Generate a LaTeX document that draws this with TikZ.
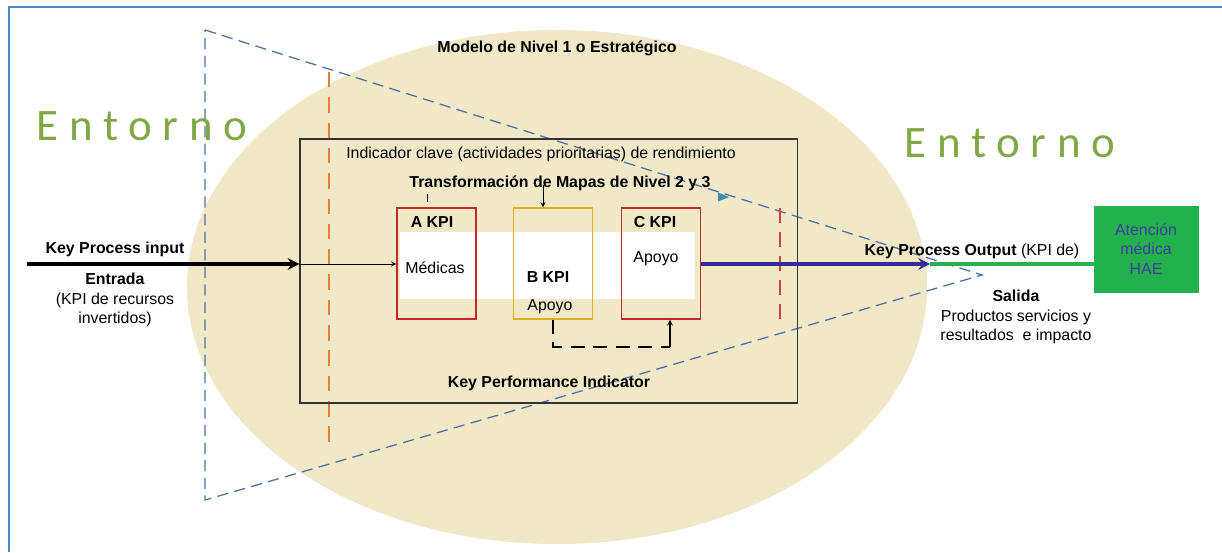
\documentclass[tikz,border=0pt]{standalone}
\usepackage{fontspec}
\setmainfont{Liberation Sans}
\newfontfamily\entfont[LetterSpace=24]{Carlito}
\usetikzlibrary{shapes,arrows,positioning,calc}

\definecolor{frameblue}{RGB}{68,140,203}
\definecolor{sand}{RGB}{240,232,198}
\definecolor{triblue}{RGB}{76,112,165}
\definecolor{dashorange}{RGB}{237,125,49}
\definecolor{dashred}{RGB}{214,62,62}
\definecolor{kpired}{RGB}{196,40,45}
\definecolor{kpiyellow}{RGB}{222,176,30}
\definecolor{outblue}{RGB}{50,48,150}
\definecolor{haegreen}{RGB}{34,177,76}
\definecolor{haetext}{RGB}{62,60,160}
\definecolor{entgreen}{RGB}{128,168,70}

\begin{document}
\begin{tikzpicture}[x=0.025cm, y=-0.025cm, >=stealth,
    lbl/.style={inner sep=0pt, font=\fontsize{11.3}{14}\selectfont, align=center},
    bold/.style={lbl, font=\fontsize{11.3}{14}\selectfont\bfseries},
    kpibox/.style={draw=kpired, line width=0.8pt, minimum width=1.975cm, minimum height=2.775cm, inner sep=0pt},
    tri/.style={draw=triblue, line width=0.9pt, dash pattern=on 8pt off 4.5pt},
    entorno/.style={inner sep=0pt, text=entgreen, font=\entfont\fontsize{32}{32}\selectfont},
    arrow/.style={->, line width=0.7pt}]

        \useasboundingbox (0,0) rectangle (1222,552);

        % frame
        \draw[frameblue, line width=1pt] (9,552) -- (9,7) -- (1222,7);

        % Modelo de Nivel 1
        \fill[sand] (557,287) ellipse [x radius=9.25cm, y radius=6.425cm];
        \draw[tri] (205,30) -- (982,275) -- (205,500) -- cycle;
        \fill[triblue!80!cyan] (718,192.5) -- (729,197) -- (718,201.5) -- cycle;

        \draw[dashorange, line width=0.8pt, dash pattern=on 11pt off 7pt] (329,72) -- (329,450);
        \draw[dashred, line width=0.8pt, dash pattern=on 11pt off 6pt] (780,208) -- (780,323);

        % Key Performance Indicator
        \node[draw=black!80, line width=0.8pt, minimum width=12.425cm, minimum height=6.6cm, inner sep=0pt] (kpi) at (548.5,271) {};
        \fill[white] (400,232) rectangle (695,299);

        % A, B, C
        \node[kpibox] (A) at (436.5,263.5) {};
        \node[kpibox, draw=kpiyellow] (B) at (553,263.5) {};
        \node[kpibox] (C) at (661,263.5) {};

        \node[bold] (Aname) at (432,222) {A KPI};
        \node[lbl] (Atext) at (435,268) {Médicas};
        \node[bold] (Bname) at (548,277) {B KPI};
        \node[lbl] (Btext) at (550,307) {Apoyo};
        \node[bold] (Cname) at (655,222) {C KPI};
        \node[lbl] (Ctext) at (656,259) {Apoyo};

        \node[bold] (title) at (557,48) {Modelo de Nivel 1 o Estratégico};
        \node[lbl] (indic) at (541,154) {Indicador clave (actividades prioritarias) de rendimiento};
        \node[bold] (transf) at (560,183) {Transformación de Mapas de Nivel 2 y 3};
        \node[bold] (kpiname) at (549,383) {Key Performance Indicator};

        \coordinate (tick) at (427,194);
        \draw[line width=0.7pt] (tick) -- ++(0,8);
        \coordinate (Bin) at (543,185);
        \draw[arrow] (Bin) -- (Bin |- B.north);

        % loop B -> C
        \coordinate (loop) at (553,347);
        \coordinate (loopEnd) at (670,347);
        \draw[line width=0.8pt, dash pattern=on 10pt off 6pt] (loop |- B.south) -- (loop) -- (loopEnd);
        \draw[arrow, line width=0.9pt] (loopEnd) -- (loopEnd |- C.south);

        % Entrada
        \coordinate (in) at (27,264);
        \node[bold] (kpin) at (115,249) {Key Process input};
        \node[lbl] (entrada) at (115,300) {\textbf{Entrada}\\(KPI de recursos\\invertidos)};
        \draw[->, line width=2.6pt] (in) -- (in -| kpi.west);
        \draw[arrow] (in -| kpi.west) -- (A.west |- in);

        % Salida
        \coordinate (outTip) at (930,264);
        \node[draw=haegreen, fill=haegreen, minimum width=2.6cm, minimum height=2.15cm, inner sep=0pt,
              text=haetext, font=\fontsize{11.3}{14}\selectfont, align=center] (hae) at (1146,249) {Atención\\médica\\HAE};
        \draw[haegreen, line width=3.5pt] (outTip) -- (outTip -| hae.west);
        \draw[->, outblue, line width=2.6pt] (C.east |- outTip) -- (outTip);
        \node[lbl] (kpout) at (972,251) {\textbf{Key Process Output} (KPI de)};
        \node[lbl] (salida) at (1016,317) {\textbf{Salida}\\Productos servicios y\\resultados~ e impacto};

        % Entorno
        \node[entorno] (entL) at (142,126) {Entorno};
        \node[entorno] (entR) at (1010,143) {Entorno};

    \end{tikzpicture}
\end{document}
